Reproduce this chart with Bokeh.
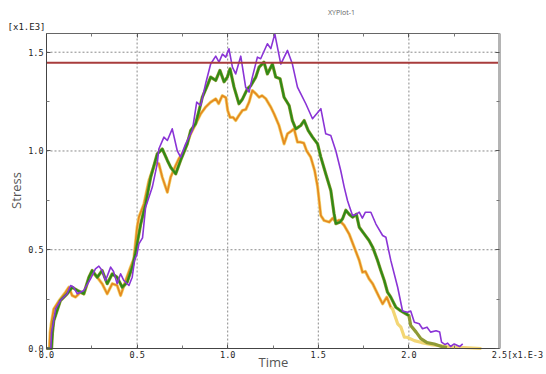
from bokeh.plotting import figure
from bokeh.models import (Label, LinearAxis, FixedTicker, CustomJSTickFormatter,
                          PrintfTickFormatter, Range1d)
from bokeh.embed import file_html
from bokeh.resources import INLINE

# Time in units of 1e-3, Stress in units of 1e3 (as on the axes)
purple_t = [0.0, 0.024, 0.028, 0.037, 0.05, 0.077, 0.114, 0.133, 0.15, 0.17, 0.206, 0.243, 0.27, 0.289,
            0.307, 0.326, 0.354, 0.37, 0.39, 0.409, 0.427, 0.455, 0.473, 0.486, 0.50, 0.51, 0.53, 0.547,
            0.584, 0.611, 0.62, 0.648, 0.667, 0.694, 0.722, 0.74, 0.768, 0.805, 0.829, 0.851, 0.878,
            0.906, 0.934, 0.952, 0.971, 0.989, 1.007, 1.026, 1.044, 1.072, 1.099, 1.118, 1.136, 1.164,
            1.182, 1.219, 1.238, 1.26, 1.293, 1.33, 1.357, 1.385, 1.403, 1.431, 1.468, 1.514, 1.541,
            1.569, 1.597, 1.624, 1.643, 1.661, 1.67, 1.689, 1.71, 1.726, 1.743, 1.76, 1.79, 1.818,
            1.855, 1.873, 1.90, 1.938, 1.965, 1.993, 2.01, 2.03, 2.057, 2.075, 2.10, 2.12, 2.15, 2.17,
            2.18, 2.20, 2.214, 2.23, 2.25, 2.28, 2.297]
purple_s = [0.0, 0.0, 0.08, 0.125, 0.20, 0.243, 0.277, 0.319, 0.31, 0.277, 0.294, 0.353, 0.403, 0.417,
            0.395, 0.344, 0.412, 0.39, 0.328, 0.378, 0.344, 0.319, 0.361, 0.446, 0.48, 0.53, 0.56, 0.715,
            0.817, 0.935, 1.01, 1.07, 1.053, 1.112, 1.0, 0.969, 1.036, 1.104, 1.247, 1.23, 1.34,
            1.44, 1.48, 1.45, 1.49, 1.475, 1.517, 1.424, 1.39, 1.48, 1.323, 1.298, 1.374, 1.475,
            1.467, 1.543, 1.518, 1.593, 1.44, 1.509, 1.44, 1.323, 1.29, 1.239, 1.163, 1.214, 1.087,
            1.078, 1.0, 0.90, 0.817, 0.749, 0.724, 0.673, 0.68, 0.69, 0.66, 0.69, 0.69, 0.63,
            0.572, 0.563, 0.446, 0.31, 0.19, 0.184, 0.19, 0.133, 0.125, 0.10, 0.108, 0.083, 0.09, 0.083,
            0.032, 0.02, 0.027, 0.01, 0.023, 0.01, 0.023]

green_t = [0.0, 0.028, 0.033, 0.04, 0.077, 0.114, 0.142, 0.17, 0.206, 0.234, 0.252, 0.28, 0.307, 0.335,
           0.363, 0.39, 0.418, 0.445, 0.473, 0.49, 0.50, 0.52, 0.547, 0.575, 0.611, 0.639, 0.667, 0.685,
           0.713, 0.74, 0.777, 0.796, 0.823, 0.842, 0.86, 0.888, 0.906, 0.934, 0.957, 0.98, 0.998,
           1.013, 1.035, 1.062, 1.08, 1.109, 1.127, 1.155, 1.173, 1.19, 1.20, 1.219, 1.247, 1.265,
           1.289, 1.311, 1.339, 1.357, 1.376, 1.403, 1.422, 1.444, 1.468, 1.496, 1.514, 1.541, 1.569,
           1.587, 1.597, 1.62, 1.634, 1.652, 1.67, 1.689, 1.71, 1.726, 1.753, 1.78, 1.80, 1.827, 1.845,
           1.864, 1.882, 1.90, 1.928, 1.956, 1.983, 2.0]
green_s = [0.0, 0.0, 0.08, 0.14, 0.243, 0.277, 0.31, 0.294, 0.277, 0.361, 0.395, 0.36, 0.395, 0.328,
           0.378, 0.36, 0.31, 0.335, 0.412, 0.48, 0.53, 0.63, 0.733, 0.867, 0.985, 1.01, 0.952, 0.918,
           0.884, 0.952, 1.036, 1.104, 1.138, 1.205, 1.272, 1.332, 1.374, 1.357, 1.408, 1.35, 1.374,
           1.416, 1.323, 1.239, 1.26, 1.315, 1.33, 1.374, 1.424, 1.44, 1.45, 1.39, 1.44, 1.374,
           1.366, 1.272, 1.23, 1.154, 1.112, 1.129, 1.154, 1.104, 1.07, 1.036, 0.969, 0.885, 0.80,
           0.682, 0.632, 0.64, 0.657, 0.70, 0.68, 0.665, 0.68, 0.614, 0.58, 0.547, 0.513, 0.446, 0.395,
           0.344, 0.285, 0.26, 0.209, 0.19, 0.176, 0.167]

olive_tail_t = [2.01, 2.04, 2.066, 2.10, 2.14, 2.18, 2.21]
olive_tail_s = [0.116, 0.083, 0.05, 0.03, 0.023, 0.01, 0.005]

orange_t = [0.0, 0.016, 0.02, 0.026, 0.04, 0.07, 0.105, 0.123, 0.142, 0.16, 0.188, 0.206, 0.234, 0.252,
            0.28, 0.307, 0.335, 0.363, 0.39, 0.409, 0.437, 0.464, 0.482, 0.50, 0.51, 0.538, 0.565,
            0.584, 0.602, 0.62, 0.639, 0.667, 0.685, 0.713, 0.73, 0.759, 0.796, 0.851, 0.878, 0.906,
            0.934, 0.95, 0.97, 0.99, 1.0, 1.013, 1.03, 1.044, 1.062, 1.081, 1.10, 1.118, 1.136, 1.155,
            1.173, 1.19, 1.21, 1.238, 1.256, 1.283, 1.311, 1.33, 1.35, 1.366, 1.385, 1.40, 1.42, 1.436,
            1.458, 1.48, 1.496, 1.514, 1.532, 1.56, 1.58, 1.597, 1.615, 1.643, 1.67, 1.698, 1.726,
            1.744, 1.76, 1.78, 1.80, 1.818, 1.836, 1.855, 1.878, 1.90]
orange_s = [0.0, 0.0, 0.08, 0.125, 0.20, 0.243, 0.285, 0.31, 0.268, 0.26, 0.285, 0.277, 0.353, 0.386,
            0.361, 0.328, 0.277, 0.328, 0.319, 0.268, 0.344, 0.412, 0.454, 0.614, 0.665, 0.733, 0.85,
            0.90, 0.943, 0.935, 0.867, 0.791, 0.867, 0.927, 0.96, 1.0, 1.087, 1.188, 1.222, 1.247,
            1.264, 1.24, 1.28, 1.27, 1.205, 1.17, 1.17, 1.154, 1.18, 1.205, 1.21, 1.247, 1.306, 1.29,
            1.272, 1.28, 1.265, 1.222, 1.188, 1.129, 1.036, 1.087, 1.10, 1.112, 1.045, 1.045, 1.04, 1.0,
            0.969, 0.90, 0.82, 0.673, 0.648, 0.64, 0.66, 0.64, 0.65, 0.623, 0.58, 0.513, 0.446,
            0.386, 0.39, 0.353, 0.328, 0.294, 0.26, 0.226, 0.26, 0.209]

yellow_tail_t = [1.91, 1.938, 1.956, 1.975, 1.99, 2.03, 2.07, 2.12, 2.21, 2.30, 2.40]
yellow_tail_s = [0.20, 0.125, 0.108, 0.057, 0.057, 0.04, 0.03, 0.02, 0.01, 0.005, 0.0]

limit_stress = 1.447

x_lim = [0.0, 2.5]          # axis extent shown (x1.E-3)
y_lim = [0.0, 1.597]        # axis extent shown (x1.E3)
x_ticks = [0.0, 0.5, 1.0, 1.5, 2.0, 2.5]
x_minor = [0.25, 0.75, 1.25, 1.75, 2.25]
x_last_label = "\u00a0" * 7 + "2.5[x1.E-3"
y_ticks = [0.0, 0.5, 1.0, 1.5]
y_minor = [0.25, 0.75, 1.25]

MONO = "DejaVu Sans Mono"
SANS = "Open Sans"

# The frame fills the whole canvas (Bokeh's page has no body margin); axes sit at fixed
# data locations so that every text stays inside the drawing area.
W, H = 546, 374
px_x = 181.2     # pixels per x unit
px_y = 197.53    # pixels per y unit
left_px, bottom_px = 46, 26
x_range = Range1d(x_lim[0] - left_px / px_x, x_lim[0] + (W - left_px) / px_x)
y_range = Range1d(y_lim[0] - bottom_px / px_y, y_lim[0] + (H - bottom_px) / px_y)

p = figure(width=W, height=H, x_range=x_range, y_range=y_range,
           output_backend="svg", toolbar_location=None,
           min_border_left=0, min_border_right=0, min_border_top=0, min_border_bottom=0)
p.outline_line_color = None
p.background_fill_color = "white"
p.border_fill_color = "white"
p.xgrid.visible = False
p.ygrid.visible = False


def style_axis(ax, labels=True):
    ax.major_tick_in = 4
    ax.major_tick_out = 0
    ax.minor_tick_in = 3
    ax.minor_tick_out = 0
    ax.major_tick_line_color = "#555"
    ax.minor_tick_line_color = "#777"
    ax.axis_line_color = "#444"
    if labels:
        ax.major_label_text_font = MONO
        ax.major_label_text_font_size = "8.5px"
        ax.major_label_text_color = "#222"
        ax.major_label_standoff = 3
    else:
        ax.formatter = CustomJSTickFormatter(code="return ''")
        ax.major_label_standoff = 0


# grid (dashed), drawn from the tick lists
vx = [t for t in x_ticks if x_lim[0] < t < x_lim[1]]
hy = [t for t in y_ticks if y_lim[0] < t]
p.segment(x0=vx, y0=[y_lim[0]] * len(vx), x1=vx, y1=[y_lim[1]] * len(vx),
          line_color="#8a8a8a", line_dash="2 2", line_width=1)
p.segment(x0=[x_lim[0]] * len(hy), y0=hy, x1=[x_lim[1]] * len(hy), y1=hy,
          line_color="#8a8a8a", line_dash="2 2", line_width=1)

# curves (thick halo lines first)
p.line(orange_t + yellow_tail_t, orange_s + yellow_tail_s, line_color="#f3d675", line_width=3.2,
       line_join="round")
p.line(orange_t, orange_s, line_color="#e58a1f", line_width=1.8, line_join="round")
p.line(green_t + olive_tail_t, green_s + olive_tail_s, line_color="#8f9a35", line_width=3.2,
       line_join="round")
p.line(green_t, green_s, line_color="#2f8a16", line_width=2.0, line_join="round")
p.line(purple_t, purple_s, line_color="#8a34d6", line_width=1.6, line_join="round")

# limit line
p.line(x_lim, [limit_stress, limit_stress], line_color="#a83c3c", line_width=2)

# axes
xa = p.xaxis[0]
ya = p.yaxis[0]
xa.ticker = FixedTicker(ticks=x_ticks, minor_ticks=x_minor)
ya.ticker = FixedTicker(ticks=y_ticks, minor_ticks=y_minor)
xa.formatter = PrintfTickFormatter(format="%.1f")
ya.formatter = PrintfTickFormatter(format="%.1f")
xa.major_label_overrides = {x_ticks[-1]: x_last_label}
style_axis(xa)
style_axis(ya)
xa.major_label_standoff = 1
xa.fixed_location = y_lim[0]
ya.fixed_location = x_lim[0]
xa.bounds = tuple(x_lim)
ya.bounds = tuple(y_lim)

top_ax = LinearAxis(ticker=FixedTicker(ticks=x_ticks, minor_ticks=x_minor))
style_axis(top_ax, labels=False)
top_ax.axis_line_color = "#666"
top_ax.fixed_location = y_lim[1]
top_ax.bounds = tuple(x_lim)
p.add_layout(top_ax, "above")

right_ax = LinearAxis(ticker=FixedTicker(ticks=y_ticks, minor_ticks=y_minor))
style_axis(right_ax, labels=False)
right_ax.axis_line_color = "#b4b4b4"
right_ax.axis_line_width = 3
right_ax.fixed_location = x_lim[1]
right_ax.bounds = tuple(y_lim)
p.add_layout(right_ax, "right")

# texts (screen units from the canvas' bottom-left corner)
p.add_layout(Label(x=15, y=184, x_units="screen", y_units="screen", text="Stress", angle=90,
                   angle_units="deg", text_align="center", text_baseline="middle",
                   text_font=SANS, text_font_size="13px", text_color="#555"))
p.add_layout(Label(x=273, y=4, x_units="screen", y_units="screen", text="Time",
                   text_align="center", text_baseline="bottom",
                   text_font=SANS, text_font_size="13px", text_color="#555"))
p.add_layout(Label(x=45, y=343, x_units="screen", y_units="screen", text="[x1.E3]",
                   text_align="right", text_baseline="bottom",
                   text_font=MONO, text_font_size="9px", text_color="#222"))
p.add_layout(Label(x=341, y=362, x_units="screen", y_units="screen", text="XYPlot-1",
                   text_align="center", text_baseline="middle",
                   text_font=SANS, text_font_size="7px", text_color="#666"))

open("out.html", "w").write(file_html(p, INLINE))
